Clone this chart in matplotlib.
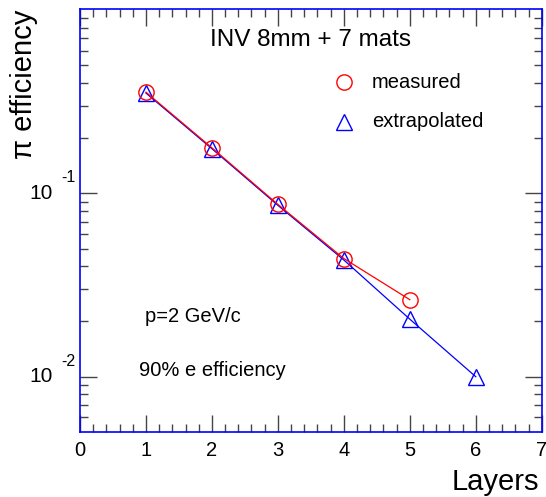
import numpy as np
import matplotlib.pyplot as plt
from matplotlib.ticker import FixedLocator, NullFormatter
import matplotlib.transforms as mtrans

plt.rcParams['font.family'] = ['Liberation Sans', 'DejaVu Sans']

# data
layers_meas = [1, 2, 3, 4, 5]
eff_meas = [0.356, 0.177, 0.087, 0.0441, 0.0263]
layers_extr = [1, 2, 3, 4, 5, 6]
eff_extr = [0.352, 0.175, 0.086, 0.0433, 0.0206, 0.0100]

W, H = 546, 497
fig = plt.figure(figsize=(W/100, H/100), dpi=100)
ax = fig.add_axes([80/W, 1-431.7/H, 461.7/W, 422.7/H])

ax.plot(layers_extr, eff_extr, color='#0000ff', lw=0.9, marker='^', ms=11,
        mfc='none', mec='#0000ff', mew=1.0, zorder=3)
ax.plot(layers_meas, eff_meas, color='#ff0000', lw=0.9, marker='o', ms=11,
        mfc='none', mec='#ff0000', mew=1.0, zorder=4)

ax.set_yscale('log')
ax.set_xlim(0, 7)
ax.set_ylim(10**-2.3, 10**0.005)

# frame
for s in ax.spines.values():
    s.set_color('#0000ff')
    s.set_linewidth(1.2)

ax.set_xticks(np.arange(0, 8, 1))
ax.xaxis.set_minor_locator(FixedLocator(np.arange(0, 7.01, 0.2)))
ax.set_xticklabels([str(i) for i in range(8)], fontsize=14.5)
ax.yaxis.set_major_locator(FixedLocator([0.01, 0.1]))
minors = [m * 10.0**e for e in (-3, -2, -1) for m in range(2, 10)]
ax.yaxis.set_minor_locator(FixedLocator(minors))
ax.yaxis.set_major_formatter(NullFormatter())
ax.yaxis.set_minor_formatter(NullFormatter())
ax.tick_params(which='both', direction='in', top=True, right=True, color='#444444', width=1.0)
ax.tick_params(which='major', length=12)
ax.tick_params(which='minor', length=6)
ax.tick_params(axis='x', which='major', pad=7)

# ROOT-style y tick labels
tr = mtrans.blended_transform_factory(ax.transAxes, ax.transData)
for v, ex in [(0.1, '-1'), (0.01, '-2')]:
    ax.text(-0.058, v, '10', transform=tr, fontsize=15, ha='right', va='center')
    ax.text(-0.040, v * 1.215, ex, transform=tr, fontsize=11.5, ha='left', va='center')

fig.text(24/W, 1-10/H, 'π efficiency', rotation=90, fontsize=21, ha='center', va='top')
fig.text(539/W, 1-490/H, 'Layers', fontsize=21, ha='right', va='baseline')

fig.text(311/W, 1-40/H, 'INV 8mm + 7 mats', fontsize=17.5, ha='center', va='center')

# legend
ax.plot([(344-80)/461.7], [(431.7-82.3)/422.7], transform=ax.transAxes, marker='o', ms=11,
        mfc='none', mec='#ff0000', mew=1.0, clip_on=False)
ax.plot([(344-80)/461.7], [(431.7-121.7)/422.7], transform=ax.transAxes, marker='^', ms=11,
        mfc='none', mec='#0000ff', mew=1.0, clip_on=False)
fig.text(372/W, 1-82.3/H, 'measured', fontsize=14.5, va='center')
fig.text(372/W, 1-121.7/H, 'extrapolated', fontsize=14.5, va='center')

fig.text(145/W, 1-316.7/H, 'p=2 GeV/c', fontsize=14.5, va='center')
fig.text(139/W, 1-370.7/H, '90% e efficiency', fontsize=14.5, va='center')

fig.savefig('out.png', dpi=100)
